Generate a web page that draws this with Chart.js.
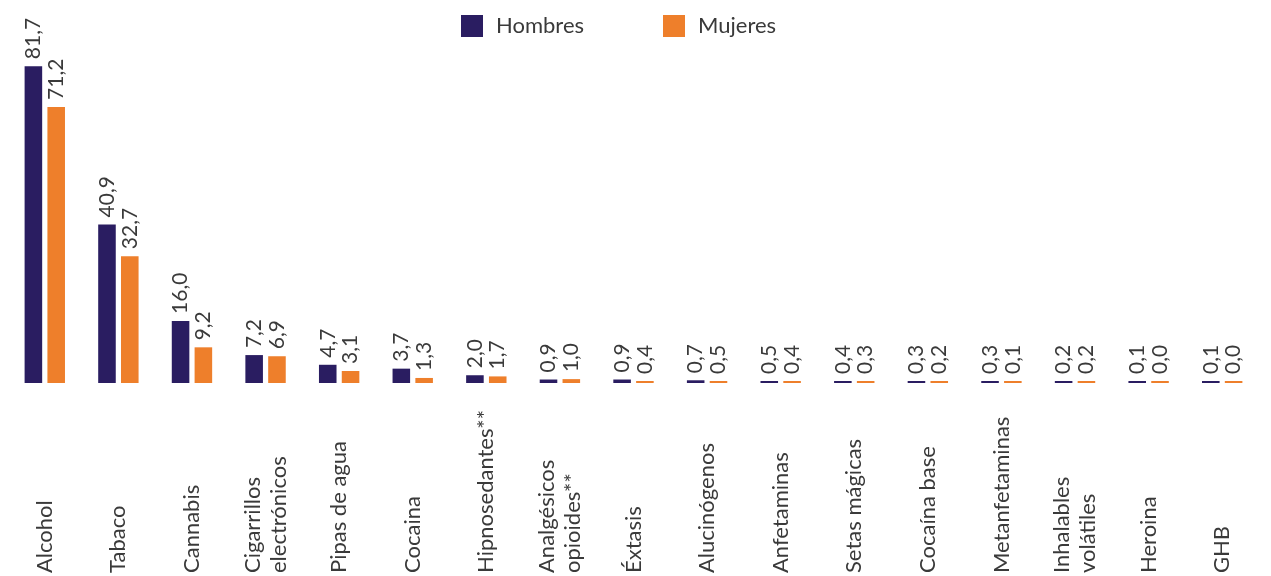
<!DOCTYPE html>
<html>
<head>
<meta charset="utf-8">
<script src="https://cdn.jsdelivr.net/npm/chart.js@4"></script>
<style>
    html, body { margin: 0; padding: 0; background: #fff; }
    #wrap { width: 1271px; height: 576px; position: relative; }
</style>
</head>
<body>
<div id="wrap"><canvas id="chart"></canvas></div>
<script>
const categories = [
    ['Alcohol'], ['Tabaco'], ['Cannabis'], ['Cigarrillos', 'electrónicos'], ['Pipas de agua'],
    ['Cocaina'], ['Hipnosedantes**'], ['Analgésicos', 'opioides**'], ['Éxtasis'], ['Alucinógenos'],
    ['Anfetaminas'], ['Setas mágicas'], ['Cocaína base'], ['Metanfetaminas'],
    ['Inhalables', 'volátiles'], ['Heroina'], ['GHB']
];
const hombres = [81.7, 40.9, 16.0, 7.2, 4.7, 3.7, 2.0, 0.9, 0.9, 0.7, 0.5, 0.4, 0.3, 0.3, 0.2, 0.1, 0.1];
const mujeres = [71.2, 32.7, 9.2, 6.9, 3.1, 1.3, 1.7, 1.0, 0.4, 0.5, 0.4, 0.3, 0.2, 0.1, 0.2, 0.0, 0.0];
const seriesNames = ['Hombres', 'Mujeres'];
const seriesColors = ['#2a1d61', '#ee7f2b'];

const FONT = 'Lato, "Open Sans", sans-serif';
const TEXT = '#3a3a3a';

function fmt(v) {
    return v.toFixed(1).replace('.', ',');
}

// value labels, rotated, above each bar
const valueLabels = {
    id: 'valueLabels',
    afterDatasetsDraw(chart) {
        const ctx = chart.ctx;
        ctx.save();
        ctx.fillStyle = TEXT;
        ctx.font = '21px ' + FONT;
        ctx.textAlign = 'left';
        ctx.textBaseline = 'middle';
        chart.data.datasets.forEach((ds, di) => {
            const meta = chart.getDatasetMeta(di);
            meta.data.forEach((bar, i) => {
                ctx.save();
                ctx.translate(bar.x, bar.y - 7);
                ctx.rotate(-Math.PI / 2);
                ctx.fillText(fmt(ds.data[i]), 0, 0);
                ctx.restore();
            });
        });
        ctx.restore();
    }
};

// category labels, rotated, starting at the bottom of the canvas
const categoryLabels = {
    id: 'categoryLabels',
    afterDraw(chart) {
        const ctx = chart.ctx;
        const xScale = chart.scales.x;
        const lineH = 26;
        ctx.save();
        ctx.fillStyle = TEXT;
        ctx.font = '22px ' + FONT;
        ctx.textAlign = 'left';
        ctx.textBaseline = 'middle';
        categories.forEach((lines, i) => {
            const x = xScale.getPixelForValue(i);
            ctx.save();
            ctx.translate(x, chart.height - 3);
            ctx.rotate(-Math.PI / 2);
            lines.forEach((line, li) => {
                ctx.fillText(line, 0, (li - (lines.length - 1) / 2) * lineH);
            });
            ctx.restore();
        });
        ctx.restore();
    }
};

// legend at the top
const topLegend = {
    id: 'topLegend',
    afterDraw(chart) {
        const ctx = chart.ctx;
        const starts = [461, 663];
        ctx.save();
        ctx.font = '22px ' + FONT;
        ctx.textBaseline = 'middle';
        ctx.textAlign = 'left';
        seriesNames.forEach((name, i) => {
            ctx.fillStyle = seriesColors[i];
            ctx.fillRect(starts[i], 15, 22, 22);
            ctx.fillStyle = TEXT;
            ctx.fillText(name, starts[i] + 35, 26);
        });
        ctx.restore();
    }
};

const canvas = document.getElementById('chart');
new Chart(canvas, {
    type: 'bar',
    data: {
        labels: categories.map(c => c.join(' ')),
        datasets: [
            { label: seriesNames[0], data: hombres, backgroundColor: seriesColors[0] },
            { label: seriesNames[1], data: mujeres, backgroundColor: seriesColors[1] }
        ]
    },
    options: {
        responsive: true,
        maintainAspectRatio: false,
        animation: false,
        devicePixelRatio: 1,
        layout: { padding: { left: 8, right: 12, top: 34, bottom: 193 } },
        datasets: {
            bar: {
                categoryPercentage: 0.62,
                barPercentage: 0.77,
                minBarLength: 2,
                borderWidth: 0
            }
        },
        scales: {
            x: { display: false },
            y: { display: false, min: 0, max: 90 }
        },
        plugins: {
            legend: { display: false },
            tooltip: { enabled: false }
        }
    },
    plugins: [valueLabels, categoryLabels, topLegend]
});
</script>
</body>
</html>
